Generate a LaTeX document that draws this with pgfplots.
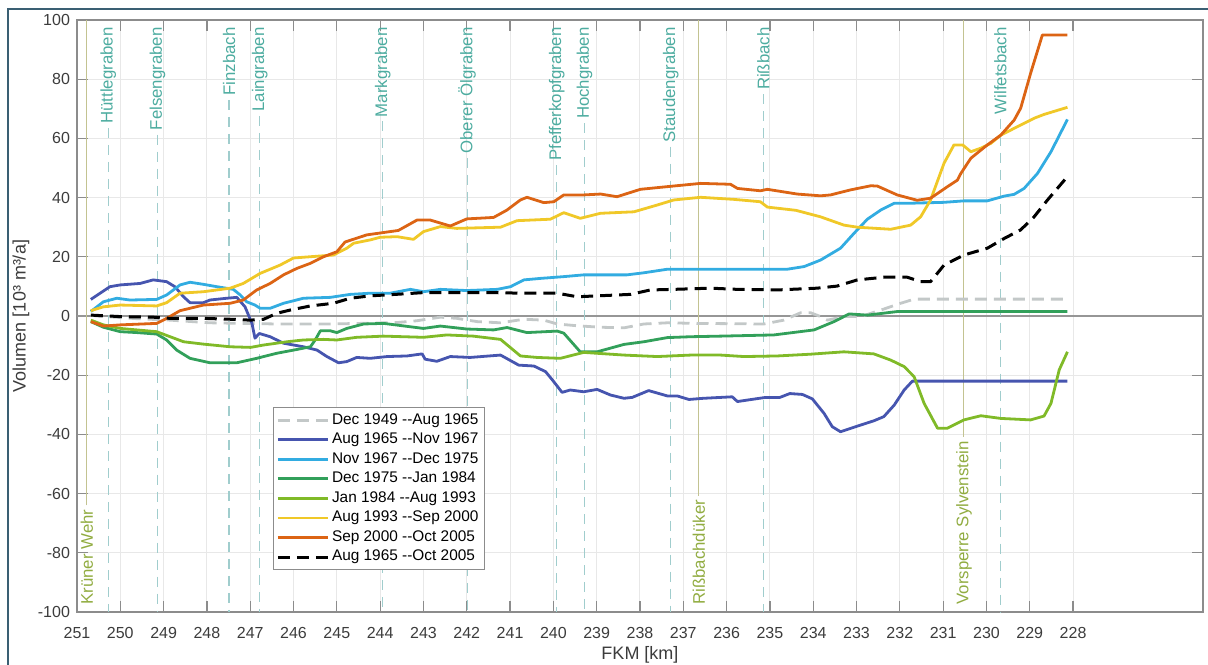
\documentclass[border=0pt]{standalone}
\usepackage{fontspec}
\setmainfont{Liberation Sans}
\usepackage{pgfplots}
\pgfplotsset{compat=1.18}

\definecolor{cA}{RGB}{195,200,200}
\definecolor{cB}{RGB}{70,85,175}
\definecolor{cC}{RGB}{50,172,225}
\definecolor{cD}{RGB}{50,160,90}
\definecolor{cE}{RGB}{128,186,40}
\definecolor{cF}{RGB}{240,200,40}
\definecolor{cG}{RGB}{220,100,20}
\definecolor{gridc}{RGB}{232,232,232}
\definecolor{axisc}{RGB}{140,140,140}
\definecolor{tickc}{RGB}{60,60,60}
\definecolor{zeroc}{RGB}{150,150,150}
\definecolor{tribline}{RGB}{160,205,205}
\definecolor{tribtext}{RGB}{77,172,160}
\definecolor{olline}{RGB}{195,195,145}
\definecolor{oltext}{RGB}{145,172,65}
\definecolor{framec}{RGB}{58,95,115}

% tributary: dashed line, label on top
\newcommand{\trib}[2]{%
  \node[yshift=-1.5pt, rotate=90, anchor=east, inner sep=2pt, text=tribtext,
        font=\fontsize{8.4}{9}\selectfont] (t) at (axis cs:#1,100) {#2};
  \draw[tribline, line width=0.6pt, dash pattern=on 5pt off 3.5pt] (t.west) -- (axis cs:#1,-100);}
% structure: solid line, label at bottom
\newcommand{\struct}[2]{%
  \node[yshift=1.5pt, rotate=90, anchor=west, inner sep=2pt, text=oltext,
        font=\fontsize{8.4}{9}\selectfont] (t) at (axis cs:#1,-100) {#2};
  \draw[olline, line width=0.5pt] (t.east) -- (axis cs:#1,100);}

\begin{document}
\begin{tikzpicture}
\begin{axis}[
  name=ax,
  scale only axis, width=563pt, height=296pt,
  x dir=reverse, xmin=225, xmax=251, ymin=-100, ymax=100,
  xtick={228,...,251}, ytick={-100,-80,...,100},
  grid=major, major grid style={color=gridc, line width=0.5pt},
  axis line style={color=axisc, line width=0.6pt},
  tick style={color=axisc, line width=0.6pt},
  major tick length=5.5pt, tick align=inside,
  ticklabel style={font=\fontsize{8}{9}\selectfont, text=tickc},
  /pgf/number format/assume math mode=true,
  x tick label style={yshift=-4pt},
  xlabel={FKM [km]}, ylabel={Volumen [10³ m³/a]},
  label style={font=\fontsize{9}{10}\selectfont, text=tickc},
  x label style={at={(axis description cs:0.5,0)}, anchor=center, yshift=-21.5pt},
  y label style={at={(axis description cs:-0.0497,0.5)}, anchor=center},
  legend style={at={(0.174,0.346)}, anchor=north west, draw=axisc, line width=0.5pt,
    fill=white, font=\fontsize{7.7}{9}\selectfont, inner sep=1.5pt, row sep=0.3pt,
    nodes={inner sep=1.3pt}},
  legend cell align=left,
  legend image code/.code={\draw[#1] (0pt,0pt) -- (25pt,0pt);},
  every axis plot/.append style={line width=1.4pt, no markers, line join=round},
]

\draw[zeroc, line width=0.6pt] (axis cs:251,0) -- (axis cs:225,0);
\trib{250.28}{Hüttlegraben}
\trib{249.14}{Felsengraben}
\trib{247.49}{Finzbach}
\trib{246.78}{Laingraben}
\trib{243.94}{Markgraben}
\trib{241.99}{Oberer Ölgraben}
\trib{239.92}{Pfefferkopfgraben}
\trib{239.28}{Hochgraben}
\trib{237.29}{Staudengraben}
\trib{235.15}{Rißbach}
\trib{229.68}{Wilfetsbach}
\struct{250.77}{Krüner Wehr}
\struct{236.64}{Rißbachdüker}
\struct{230.52}{Vorsperre Sylvenstein}

\addplot[cA, dash pattern=on 6pt off 3.5pt] coordinates {
(250.68,0.3) (250.55,0) (249.62,-0.9) (248.85,-1.4) (247.93,-2.3) (247.16,-2.5)
(246.39,-2.7) (245.15,-2.7) (244.46,-2.5) (243.6,-2.2) (243.15,-1.6) (242.61,-0.4)
(242.23,-0.8) (241.76,-1.9) (241.22,-2.3) (240.68,-1.1) (240.22,-1.4) (239.91,-2.7)
(239.45,-3.3) (238.91,-3.8) (238.37,-4.0) (237.91,-2.7) (237.37,-2.3) (236.68,-2.5)
(235.14,-2.7) (234.68,-1.4) (234.29,1.1) (234.06,1.1) (233.83,-0.2) (233.67,-1.4)
(233.29,-0.2) (232.90,-0.2) (232.44,2.0) (231.98,4.3) (231.67,5.7) (228.13,5.7)};
\addlegendentry{Dec 1949 -{}-Aug 1965}

\addplot[cB] coordinates {
(250.68,5.6) (250.24,9.9) (250.0,10.5) (249.54,11.0) (249.24,12.2) (248.93,11.6)
(248.74,9.9) (248.54,6.5) (248.39,4.5) (248.08,4.5) (247.93,5.4) (247.54,6.0)
(247.31,6.3) (247.12,3.1) (246.96,-2.5) (246.89,-7.5) (246.79,-5.9) (246.54,-7.0)
(246.23,-9.2) (245.77,-10.4) (245.46,-11.5) (245.23,-13.7) (244.96,-15.8) (244.77,-15.4)
(244.54,-14.0) (244.23,-14.3) (243.84,-13.7) (243.38,-13.5) (243.03,-12.8) (242.96,-14.6)
(242.69,-15.3) (242.38,-13.7) (241.92,-14.0) (241.22,-13.2) (240.80,-16.6) (240.45,-16.9)
(240.18,-18.8) (239.99,-22.2) (239.80,-25.8) (239.61,-25.0) (239.30,-25.6) (238.99,-24.8)
(238.68,-26.7) (238.37,-27.8) (238.18,-27.5) (237.80,-25.2) (237.37,-27.0) (237.14,-27.0)
(236.87,-28.2) (236.53,-27.8) (235.87,-27.3) (235.75,-28.9) (235.52,-28.4) (235.10,-27.5)
(234.77,-27.5) (234.54,-26.2) (234.25,-26.5) (234.02,-28.0) (233.75,-32.9) (233.56,-37.4)
(233.37,-39.1) (232.98,-37.2) (232.60,-35.4) (232.37,-34.0) (232.13,-30.1) (231.90,-25.0)
(231.71,-22.0) (228.13,-22.0)};
\addlegendentry{Aug 1965 -{}-Nov 1967}

\addplot[cC] coordinates {
(250.68,1.5) (250.39,4.8) (250.08,6.0) (249.78,5.4) (249.16,5.6) (248.93,7.1)
(248.62,10.5) (248.39,11.4) (248.08,10.7) (247.77,9.9) (247.39,9.0) (247.23,7.1)
(247.08,4.8) (246.89,3.7) (246.77,2.6) (246.54,2.6) (246.23,4.3) (245.77,6.0)
(245.15,6.3) (244.69,7.3) (244.23,7.7) (243.77,7.7) (243.30,9.0) (243.0,8.2)
(242.61,9.0) (242.0,8.6) (241.30,9.0) (240.99,9.9) (240.68,12.2) (240.30,12.7)
(239.76,13.3) (239.30,13.9) (238.30,13.9) (237.91,14.6) (237.37,15.8) (234.6,15.8)
(234.21,16.7) (233.83,18.9) (233.37,22.9) (233.06,27.9) (232.75,32.7) (232.44,35.8)
(232.13,38.1) (231.75,38.1) (230.98,38.4) (230.52,38.9) (229.98,38.9) (229.59,40.5)
(229.36,41.1) (229.13,43.1) (228.82,48.2) (228.51,55.5) (228.13,66.4)};
\addlegendentry{Nov 1967 -{}-Dec 1975}

\addplot[cD] coordinates {
(250.68,-1.9) (250.39,-3.8) (250.0,-5.3) (249.62,-5.6) (249.16,-6.1) (248.93,-8.1)
(248.70,-11.5) (248.39,-14.3) (247.93,-15.8) (247.31,-15.8) (246.85,-14.3) (246.39,-12.6)
(245.92,-11.3) (245.61,-10.4) (245.50,-8.1) (245.38,-5.0) (245.15,-5.0) (245.0,-5.6)
(244.77,-4.2) (244.38,-2.7) (243.92,-2.5) (243.54,-3.2) (243.0,-4.2) (242.61,-3.4)
(242.0,-4.4) (241.38,-4.7) (241.07,-3.9) (240.61,-5.6) (239.91,-5.1) (239.76,-5.8)
(239.38,-12.1) (238.99,-12.1) (238.37,-9.6) (237.91,-8.7) (237.37,-7.3) (236.83,-7.0)
(236.14,-6.8) (234.91,-6.4) (233.98,-4.7) (233.52,-1.9) (233.17,0.7) (232.75,0.3)
(232.06,1.5) (228.13,1.5)};
\addlegendentry{Dec 1975 -{}-Jan 1984}

\addplot[cE] coordinates {
(250.68,-1.4) (250.39,-3.0) (250.0,-4.2) (249.16,-5.3) (248.85,-7.0) (248.54,-8.7)
(248.08,-9.5) (247.46,-10.4) (246.99,-10.6) (246.69,-9.8) (246.15,-8.7) (245.77,-8.1)
(245.31,-7.9) (245.0,-8.1) (244.54,-7.2) (243.92,-6.8) (243.0,-7.2) (242.46,-6.4)
(241.85,-6.8) (241.22,-7.9) (240.76,-13.5) (240.38,-14.0) (239.84,-14.3) (239.30,-12.3)
(238.37,-13.2) (237.60,-13.7) (236.83,-13.2) (236.14,-13.2) (235.60,-13.7) (234.83,-13.5)
(234.06,-12.9) (233.29,-12.1) (232.60,-12.8) (232.21,-14.9) (231.90,-17.1) (231.67,-20.5)
(231.44,-29.5) (231.13,-37.9) (230.90,-37.9) (230.52,-35.1) (230.13,-33.7) (229.67,-34.6)
(228.98,-35.1) (228.67,-33.8) (228.51,-29.5) (228.32,-18.2) (228.13,-12.1)};
\addlegendentry{Jan 1984 -{}-Aug 1993}

\addplot[cF] coordinates {
(250.68,1.8) (250.39,3.1) (250.0,3.7) (249.16,3.4) (248.93,4.5) (248.62,7.7)
(248.08,8.2) (247.46,9.4) (247.16,11.0) (246.77,14.4) (246.31,17.2) (246.0,19.6)
(245.08,20.6) (244.77,22.9) (244.61,24.6) (244.23,25.7) (244.0,26.6) (243.61,26.8)
(243.23,25.9) (243.0,28.5) (242.61,30.2) (242.23,29.6) (241.22,30.0) (240.84,32.2)
(240.07,32.7) (239.76,34.9) (239.38,33.0) (238.91,34.7) (238.14,35.2) (237.60,37.5)
(237.22,39.2) (236.60,40.1) (235.83,39.4) (235.22,38.6) (235.06,36.8) (234.40,35.7)
(233.83,33.5) (233.29,30.7) (232.98,30.0) (232.21,29.3) (231.75,30.7) (231.52,33.5)
(231.29,39.2) (230.98,51.6) (230.75,57.8) (230.55,57.8) (230.36,55.5) (230.13,56.7)
(229.90,58.3) (229.67,61.1) (229.36,63.4) (228.90,66.8) (228.67,68.1) (228.13,70.5)};
\addlegendentry{Aug 1993 -{}-Sep 2000}

\addplot[cG] coordinates {
(250.68,-1.9) (250.39,-3.4) (250.0,-3.0) (249.16,-2.5) (248.93,-0.8) (248.62,1.8)
(248.08,3.7) (247.46,4.3) (247.16,5.4) (246.85,8.8) (246.54,11.0) (246.23,13.9)
(245.92,16.1) (245.61,17.8) (245.31,20.0) (245.0,21.7) (244.81,25.0) (244.31,27.4)
(243.58,28.9) (243.15,32.4) (242.84,32.4) (242.38,30.4) (242.0,32.8) (241.38,33.3)
(241.07,35.8) (240.76,39.2) (240.61,40.1) (240.22,38.3) (239.99,38.6) (239.76,40.9)
(239.30,40.9) (238.91,41.2) (238.53,40.3) (237.99,42.8) (237.37,43.7) (236.60,44.8)
(235.91,44.5) (235.75,43.1) (235.22,42.3) (235.06,42.8) (234.37,41.2) (233.83,40.6)
(233.6,40.9) (233.14,42.6) (232.67,44.0) (232.52,43.9) (232.06,40.9) (231.60,39.1)
(231.29,39.8) (230.90,43.7) (230.67,45.9) (230.59,48.2) (230.36,53.3) (229.98,57.8)
(229.67,61.1) (229.36,66.2) (229.21,70.2) (228.98,82.0) (228.71,94.9) (228.13,94.9)};
\addlegendentry{Sep 2000 -{}-Oct 2005}

\addplot[black, line width=1.5pt, dash pattern=on 6pt off 3.5pt] coordinates {
(250.68,0.3) (250.0,-0.2) (249.24,-0.4) (248.85,-0.8) (248.08,-0.8) (247.46,-1.1)
(247.0,-1.4) (246.69,-1.1) (246.39,0.9) (246.08,2.0) (245.61,3.4) (245.08,4.3)
(244.69,6.0) (244.23,6.8) (243.54,7.4) (243.0,7.9) (241.45,7.9) (240.68,7.7)
(239.91,7.7) (239.45,6.5) (238.84,6.9) (238.22,7.3) (237.76,8.8) (237.22,9.0)
(236.37,9.4) (235.75,9.0) (234.83,8.8) (233.91,9.4) (233.45,10.1) (232.98,12.2)
(232.37,13.1) (231.83,13.1) (231.52,11.6) (231.29,11.6) (230.98,17.2) (230.52,20.6)
(229.98,22.9) (229.59,26.2) (229.21,29.1) (228.90,33.5) (228.59,39.2) (228.13,47.1)};
\addlegendentry{Aug 1965 -{}-Oct 2005}
\end{axis}

\draw[framec, line width=1pt]
  ([xshift=-34.6pt,yshift=-40pt]ax.south west) -- ([xshift=-34.6pt,yshift=5.4pt]ax.north west)
  -- ([xshift=20pt,yshift=5.4pt]ax.north east);
\pgfresetboundingbox
\path[use as bounding box] ([xshift=-38.5pt,yshift=-26pt]ax.south west)
  rectangle ([xshift=2.5pt,yshift=10pt]ax.north east);
\end{tikzpicture}
\end{document}
